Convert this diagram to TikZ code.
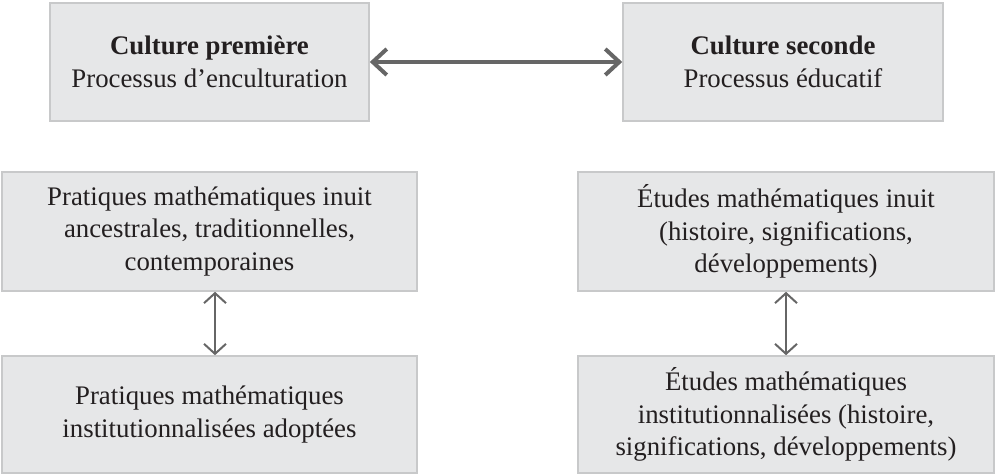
\documentclass[tikz,border=0pt]{standalone}
\usepackage{fontspec}
\setmainfont{Liberation Serif}
\usepackage{tikz}
\usetikzlibrary{arrows.meta,positioning}
\definecolor{boxgray}{HTML}{E6E7E8}
\definecolor{boxline}{HTML}{C8C9CA}
\definecolor{arrowgray}{HTML}{666666}
\definecolor{textblack}{HTML}{231F20}

\begin{document}
\begin{tikzpicture}[x=0.5pt,y=-0.5pt]
      \useasboundingbox (0,0) rectangle (995,475);

      \begin{scope}[every node/.style={rectangle, draw=boxline, fill=boxgray, line width=0.8pt,
                    text=textblack, align=center, inner sep=0pt, font=\fontsize{13.4}{16.3}\selectfont}]
          \node[minimum width=159.5pt, minimum height=59pt] (C1) at (209.5,62)
               {\textbf{Culture première}\\Processus d'enculturation};
          \node[minimum width=160pt, minimum height=59pt] (C2) at (783,62)
               {\textbf{Culture seconde}\\Processus éducatif};
          \node[minimum width=207.5pt, minimum height=59.5pt] (P1) at (209.5,231.5)
               {Pratiques mathématiques inuit\\ancestrales, traditionnelles,\\contemporaines};
          \node[minimum width=207.5pt, minimum height=58.5pt] (P2) at (209.5,414.5)
               {Pratiques mathématiques\\institutionnalisées adoptées};
          \node[minimum width=208pt, minimum height=59.5pt] (E1) at (786,231.5)
               {Études mathématiques inuit\\(histoire, significations,\\développements)};
          \node[minimum width=208pt, minimum height=58.5pt] (E2) at (786,414.5)
               {Études mathématiques\\institutionnalisées (histoire,\\significations, développements)};
      \end{scope}

      \begin{scope}[draw=arrowgray]
          \draw [{Straight Barb[length=7pt,width=13pt]}-{Straight Barb[length=7pt,width=13pt]}, line width=2pt]
                (C1) -- (C2);
          \draw [{Straight Barb[length=5pt,width=11pt]}-{Straight Barb[length=5pt,width=11pt]}, line width=1pt]
                ([xshift=2.75pt]P1.south) -- ([xshift=2.75pt]P2.north);
          \draw [{Straight Barb[length=5pt,width=11pt]}-{Straight Barb[length=5pt,width=11pt]}, line width=1pt]
                (E1) -- (E2);
      \end{scope}
\end{tikzpicture}
\end{document}
